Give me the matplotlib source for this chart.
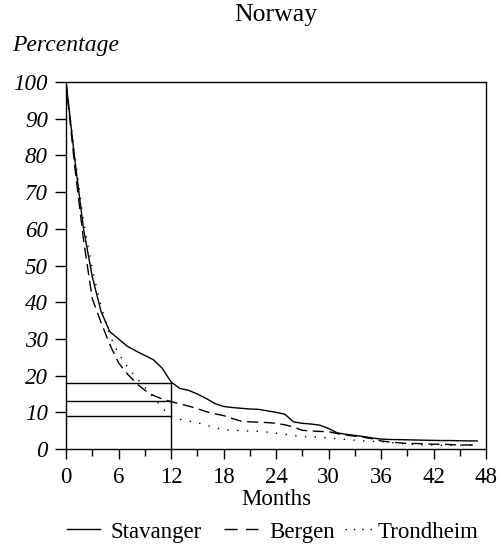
import matplotlib
matplotlib.use("Agg")
import matplotlib.pyplot as plt
from matplotlib.lines import Line2D
from matplotlib.ticker import MultipleLocator

months = list(range(0, 48))
stavanger = [100, 79, 60, 47, 37.5, 32, 30, 28, 26.7, 25.5, 24.3, 22, 18.3,
             16.5, 16, 15, 13.8, 12.4, 11.6, 11.3, 11.1, 10.9, 10.8, 10.4,
             10, 9.5, 7.4, 7.0, 6.8, 6.5, 5.6, 4.4, 4.0, 3.7, 3.4, 3.0, 2.7,
             2.6, 2.55, 2.5, 2.45, 2.4, 2.35, 2.3, 2.3, 2.25, 2.2, 2.2]
bergen = [100, 77, 57, 41, 34.5, 28.5, 23.5, 20.5, 18, 16, 14.6, 13.6, 12.9,
          12.3, 11.7, 11, 10.2, 9.6, 9.1, 8.3, 7.6, 7.4, 7.3, 7.2, 7.0, 6.6,
          6.0, 5.1, 4.9, 4.8, 4.7, 4.2, 3.8, 3.5, 3.2, 2.8, 2.2, 1.9, 1.7,
          1.5, 1.5, 1.4, 1.3, 1.3, 1.2, 1.1, 1.1, 1.1]
trondheim = [100, 80, 62, 49, 39, 31, 26, 22.5, 19.5, 16.8, 14, 11.2, 8.8,
             8.1, 7.6, 7.2, 6.5, 5.8, 5.3, 5.1, 5.0, 4.9, 4.8, 4.6, 4.3, 4.0,
             3.7, 3.4, 3.3, 3.2, 3.0, 2.8, 2.6, 2.4, 2.2, 2.1, 2.0, 1.8, 1.6,
             1.3, 1.2, 1.1, 1.1, 1.0, 1.0, 1.0, 1.0, 1.0]
series_names = ['Stavanger', 'Bergen', 'Trondheim']
ref_month = 12
ref_levels = [18, 13, 9]
xticks = list(range(0, 49, 6))
yticks = list(range(0, 101, 10))

plt.rcParams['font.family'] = ['Liberation Serif', 'DejaVu Serif']

W, H = 501, 547
fig = plt.figure(figsize=(W/100, H/100), dpi=100)
ax = fig.add_axes([66/W, 1-449/H, 420/W, 367/H])

styles = ['-', (0, (8, 4)), (0, (1, 6))]
for name, vals, ls in zip(series_names, [stavanger, bergen, trondheim], styles):
    ax.plot(months, vals, color='black', lw=1.0, ls=ls)

for lv in ref_levels:
    ax.plot([0, ref_month], [lv, lv], color='black', lw=1.0)
ax.plot([ref_month, ref_month], [0, max(ref_levels)], color='black', lw=1.0)

ax.set_xlim(0, 48)
ax.set_ylim(0, 100)
ax.set_xticks(xticks)
ax.xaxis.set_minor_locator(MultipleLocator(3))
ax.set_yticks(yticks)
ax.set_yticklabels([str(v) for v in yticks], fontstyle='italic')
ax.tick_params(axis='y', direction='out', length=8, width=1, pad=5, labelsize=16.5)
ax.tick_params(axis='x', which='major', direction='out', length=7, width=1, pad=6, labelsize=16.5)
ax.tick_params(axis='x', which='minor', direction='out', length=5, width=1)
for s in ax.spines.values():
    s.set_linewidth(1.0)

ax.set_xlabel('Months', fontsize=16.5, labelpad=1)
fig.text(276/W, 1-15/H, 'Norway', ha='center', va='center', fontsize=18.5)
fig.text(12/W, 1-46/H, 'Percentage', ha='left', va='center', fontsize=17, fontstyle='italic')

# manual legend
leg_line_y = 1 - 529/H
leg_text_y = 1 - 538/H
handles = [(67, 100, '-', 110), (224, 258, (0, (9.5, 6)), 269), (345, 373, (0, (1, 5)), 378)]
for (x0, x1, ls, tx), name in zip(handles, series_names):
    fig.add_artist(Line2D([x0/W, x1/W], [leg_line_y, leg_line_y], color='black',
                          lw=1.0, ls=ls, transform=fig.transFigure))
    fig.text(tx/W, leg_text_y, name, ha='left', va='baseline', fontsize=16.5)

fig.savefig('out.png', dpi=100)
